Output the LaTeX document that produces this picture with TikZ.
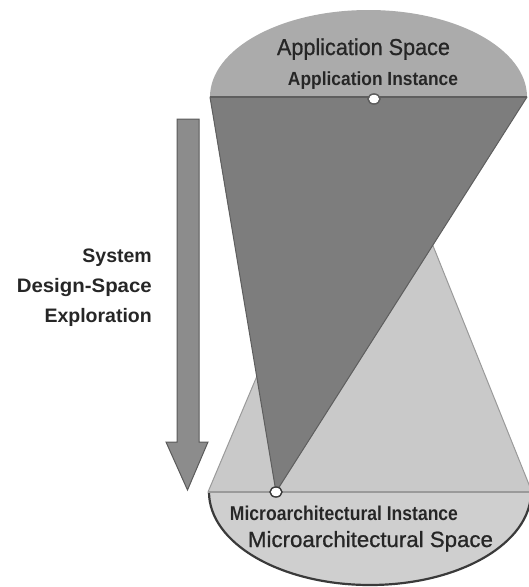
\documentclass[tikz,border=0pt]{standalone}
\usepackage{fontspec}
\setmainfont{Liberation Sans}
\newfontfamily\heavyregular[FakeBold=0.8]{Liberation Sans}
\usepackage{graphicx}
% set a label to a given width, keeping its height
\newcommand{\fitto}[2]{\resizebox{#1}{\height}{#2}}

\definecolor{capgray}{HTML}{ABABAB}
\definecolor{darkcone}{HTML}{7D7D7D}
\definecolor{darkedge}{HTML}{5E5E5E}
\definecolor{lightcone}{HTML}{C9C9C9}
\definecolor{lightedge}{HTML}{9A9A9A}
\definecolor{basegray}{HTML}{CFCFCF}
\definecolor{rimdark}{HTML}{3A3A3A}
\definecolor{arrowfill}{HTML}{8C8C8C}
\definecolor{arrowedge}{HTML}{5A5A5A}
\definecolor{inkgray}{HTML}{262626}

\tikzset{
  label/.style={inner sep=0pt, anchor=base, text=inkgray},
  sidelabel/.style={inner sep=0pt, anchor=base east, text=inkgray,
    font=\fontsize{19.5}{22}\selectfont\bfseries},
  instdot/.style={fill=white, draw=darkedge, line width=1.2pt},
}

\begin{document}
\begin{tikzpicture}[x=1pt,y=-1pt]
\useasboundingbox (0,0) rectangle (529,587);
\clip (0,0) rectangle (529,587);

% instance points and cone rims
\coordinate (appinst) at (374,99);
\coordinate (microinst) at (276,492);
\coordinate (appL) at (210,97);
\coordinate (appR) at (527,97);
\coordinate (microL) at (208,492);
\coordinate (microR) at (532,492);

% lower half of the microarchitectural space
\begin{scope}
  \clip (0,492) rectangle (529,587);
  \fill[basegray] (370,492) ellipse [x radius=161pt, y radius=93pt];
  \draw[rimdark, line width=2.2pt] (370,492) ellipse [x radius=161pt, y radius=93pt];
\end{scope}

% cone from the application instance down to the microarchitectural space
\fill[lightcone, draw=lightedge, line width=1pt, line join=round]
  (appinst) -- (microL) -- (microR) -- cycle;
\draw[lightedge, line width=2pt] (microL) -- (microR);

% upper half of the application space
\begin{scope}
  \clip (0,0) rectangle (529,97);
  \fill[capgray] (368.5,97) ellipse [x radius=158.5pt, y radius=87pt];
\end{scope}

% cone from the microarchitectural instance up to the application space
\fill[darkcone, draw=darkedge, line width=1pt, line join=round]
  (microinst) -- (appL) -- (appR) -- cycle;
\draw[darkedge, line width=2pt] (appL) -- (appR);

% instance markers
\fill[instdot] (appinst) ellipse [x radius=6pt, y radius=5pt];
\fill[instdot] (microinst) ellipse [x radius=6pt, y radius=5pt];
\draw[darkedge, line width=1.2pt] (appinst) ellipse [x radius=6pt, y radius=5pt];
\draw[rimdark, line width=1.2pt] (microinst) ellipse [x radius=6pt, y radius=5pt];

% exploration arrow
\filldraw[fill=arrowfill, draw=arrowedge, line width=1pt, line join=miter]
  (177,119) -- (199,119) -- (199,442) -- (208,442) -- (187.5,490)
  -- (166,442) -- (177,442) -- cycle;

% labels
\node[label, font=\fontsize{23}{26}\selectfont\heavyregular] (appspace) at (363.5,55)
  {\fitto{173pt}{Application Space}};
\node[label, font=\fontsize{19}{22}\selectfont\bfseries] (appinstlabel) at (373,85)
  {\fitto{170pt}{Application Instance}};
\node[label, font=\fontsize{20}{23}\selectfont\bfseries] (microinstlabel) at (344,520)
  {\fitto{228pt}{Microarchitectural Instance}};
\node[label, font=\fontsize{22}{25}\selectfont\heavyregular] (microspace) at (370.5,547)
  {\fitto{245pt}{Microarchitectural Space}};

\node[sidelabel] (sys) at (152,262) {System};
\node[sidelabel] (dse) at (152,292) {\fitto{135pt}{Design-Space}};
\node[sidelabel] (expl) at (152,322) {Exploration};
\end{tikzpicture}
\end{document}
